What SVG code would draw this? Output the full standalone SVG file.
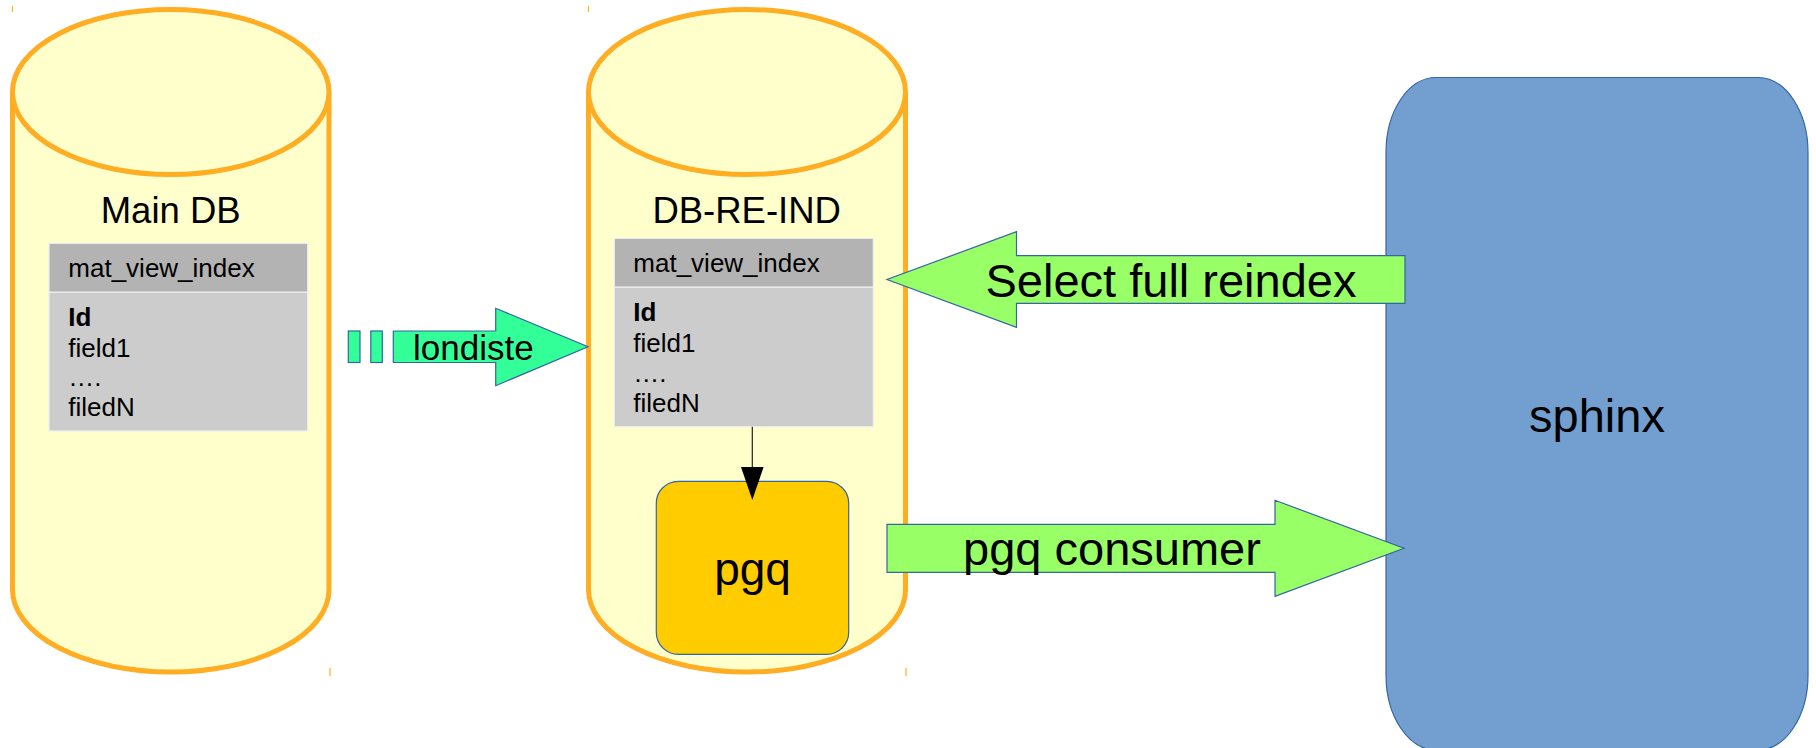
<svg xmlns="http://www.w3.org/2000/svg" width="1816" height="748" viewBox="0 0 1816 748">
<style>
.cyl{fill:#ffffcc;stroke:#ffad22;stroke-width:5}
.tick{stroke:#ffad22;stroke-width:1.2}
.hdr{fill:#b3b3b3;stroke:#eeeeee;stroke-width:1.2}
.body{fill:#cccccc;stroke:#eeeeee;stroke-width:1.2}
.t{font-family:"Liberation Sans",Arial,sans-serif;fill:#000}
.title{font-size:36.5px;text-anchor:middle}
.cell{font-size:26px}
.big{font-size:47px}
.barrow{fill:#99ff66;stroke:#3465a4;stroke-width:1.2}
.larrow{fill:#33ff99;stroke:#3465a4;stroke-width:1.2}
</style>
<rect width="1816" height="748" fill="#ffffff"/>

<g id="corner-ticks">
<line class="tick" x1="12.5" y1="6" x2="12.5" y2="12"/>
<line class="tick" x1="588.5" y1="6" x2="588.5" y2="12"/>
<line class="tick" x1="330" y1="668" x2="330" y2="676"/>
<line class="tick" x1="906" y1="668" x2="906" y2="676"/>
</g>

<g id="main-db">
<path class="cyl" d="M12.5,92 V589.5 A158.25,82.5 0 0 0 329,589.5 V92"/>
<ellipse class="cyl" cx="170.75" cy="92" rx="158.25" ry="82.5"/>
<text class="t title" x="170.7" y="223.3">Main DB</text>
<rect class="hdr" x="49" y="243.3" width="258.7" height="49"/>
<rect class="body" x="49" y="292.3" width="258.7" height="138.7"/>
<text class="t cell" x="68.3" y="276.7">mat_view_index</text>
<text class="t cell" x="68.3" y="326" font-weight="bold">Id</text>
<text class="t cell" x="68.3" y="357.3">field1</text>
<text class="t cell" x="68.3" y="386">….</text>
<text class="t cell" x="68.3" y="416">filedN</text>
</g>

<g id="db-re-ind">
<path class="cyl" d="M588.5,92 V589.5 A158.5,82.5 0 0 0 905.5,589.5 V92"/>
<ellipse class="cyl" cx="747" cy="92" rx="158.5" ry="82.5"/>
<text class="t title" x="746.7" y="223.3">DB-RE-IND</text>
<rect class="hdr" x="614.3" y="238.3" width="259" height="49"/>
<rect class="body" x="614.3" y="287.3" width="259" height="139.4"/>
<text class="t cell" x="633.3" y="271.7">mat_view_index</text>
<text class="t cell" x="633.3" y="320.7" font-weight="bold">Id</text>
<text class="t cell" x="633.3" y="351.7">field1</text>
<text class="t cell" x="633.3" y="381.7">….</text>
<text class="t cell" x="633.3" y="411.7">filedN</text>
</g>

<g id="pgq">
<rect x="656.3" y="481.3" width="192.4" height="173" rx="22" ry="22" fill="#ffcc00" stroke="#3465a4" stroke-width="1.2"/>
<text class="t" x="752.5" y="585" font-size="46px" text-anchor="middle">pgq</text>
</g>

<g id="sphinx">
<rect x="1386" y="77.5" width="422" height="672.5" rx="50" ry="75" fill="#729fcf" stroke="#3465a4" stroke-width="1.2"/>
<text class="t big" x="1597" y="432" text-anchor="middle">sphinx</text>
</g>

<g id="londiste">
<rect class="larrow" x="348.3" y="331" width="11.7" height="31.5"/>
<rect class="larrow" x="370.8" y="331" width="11.5" height="31.5"/>
<path class="larrow" d="M393.3,331 H495.7 V308.3 L588,346.7 L495.7,385.7 V362.5 H393.3 Z"/>
<text class="t" x="413" y="360" font-size="35px">londiste</text>
</g>

<g id="select-full-reindex">
<path class="barrow" d="M1405,255.7 H1016.5 V231.7 L887,279.5 L1016.5,327.3 V303.3 H1405 Z"/>
<text class="t big" x="1171" y="296.7" text-anchor="middle">Select full reindex</text>
</g>

<g id="pgq-consumer">
<path class="barrow" d="M887,524.3 H1275 V500.3 L1404,548.3 L1275,596.3 V572.3 H887 Z"/>
<text class="t big" x="1112" y="565" text-anchor="middle">pgq consumer</text>
</g>

<g id="connectors">
<line x1="752.3" y1="426.7" x2="752.3" y2="468" stroke="#222" stroke-width="1.2"/>
<polygon points="741,467 763.6,467 752.3,500" fill="#000"/>
</g>
</svg>
